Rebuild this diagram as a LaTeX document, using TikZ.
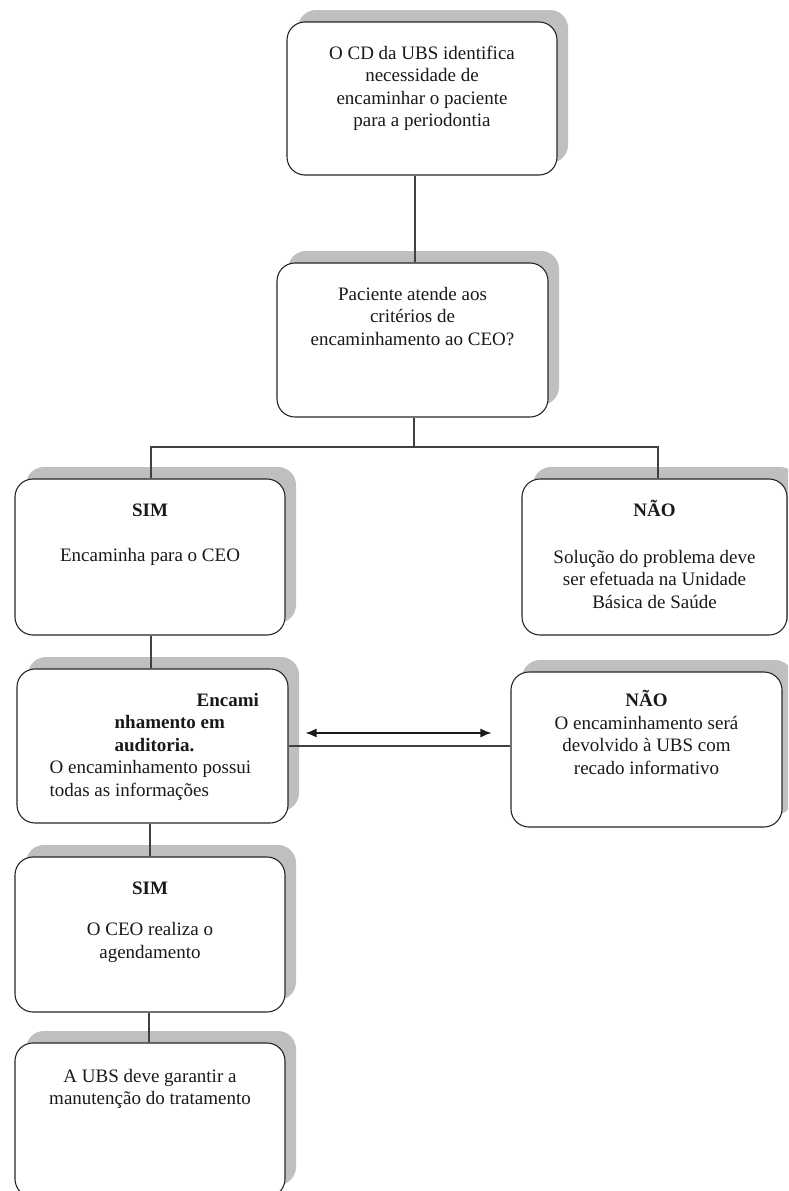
\documentclass[tikz,border=0pt]{standalone}
\usepackage{fontspec}
\setmainfont{Liberation Serif}
\usetikzlibrary{shadows,arrows.meta}
\begin{document}
\begin{tikzpicture}[x=1pt,y=-1pt,
  box/.style={draw=black!85, line width=1.1pt, fill=white, rounded corners=18pt, inner sep=0pt,
    drop shadow={shadow xshift=11pt, shadow yshift=12pt, fill=black!25, opacity=1}},
  txt/.style={inner sep=0pt, align=center, anchor=north, font=\fontsize{19}{22.5}\selectfont, text=black!90},
  link/.style={draw=black!75, line width=1.3pt},
  dbl/.style={draw=black!90, line width=1.3pt, {Latex[length=11pt,width=9pt]}-{Latex[length=11pt,width=9pt]}},
]
\clip (0,0) rectangle (788,1191);
% boxes
\node[box, minimum width=270pt, minimum height=153pt] (b1) at (422,98.5) {};
\node[box, minimum width=271pt, minimum height=154pt] (b2) at (412.5,340) {};
\node[box, minimum width=270pt, minimum height=156pt] (b3) at (150,557) {};
\node[box, minimum width=265pt, minimum height=156pt] (b4) at (654.5,557) {};
\node[box, minimum width=271pt, minimum height=154pt] (b5) at (152.5,746) {};
\node[box, minimum width=271pt, minimum height=155pt] (b6) at (646.5,749.5) {};
\node[box, minimum width=270pt, minimum height=155pt] (b7) at (150,934.5) {};
\node[box, minimum width=270pt, minimum height=154pt] (b8) at (150,1120) {};
% texts
\node[txt] (t1) at ([yshift=-22pt]b1.north) {\strut O CD da UBS identifica\\ necessidade de\\ encaminhar o paciente\\ para a periodontia};
\node[txt] (t2) at ([yshift=-22pt]b2.north) {\strut Paciente atende aos\\ critérios de\\ encaminhamento ao CEO?};
\node[txt] (t3) at ([yshift=-22pt]b3.north) {\strut\textbf{SIM}\\[22.5pt] Encaminha para o CEO};
\node[txt] (t4) at ([yshift=-22pt]b4.north) {\strut\textbf{NÃO}\\[24pt] Solução do problema deve\\ ser efetuada na Unidade\\ Básica de Saúde};
\node[txt, align=left, anchor=north west] (t5) at ([shift={(33pt,-22pt)}]b5.north west) {\strut\hspace*{147pt}\textbf{Encami}\\ \hspace*{65pt}\textbf{nhamento em}\\ \hspace*{65pt}\textbf{auditoria.}\\ O encaminhamento possui\\ todas as informações};
\node[txt] (t6) at ([yshift=-19pt]b6.north) {\strut\textbf{NÃO}\\ O encaminhamento será\\ devolvido à UBS com\\ recado informativo};
\node[txt] (t7) at ([yshift=-22pt]b7.north) {\strut\textbf{SIM}\\[19pt] O CEO realiza o\\ agendamento};
\node[txt] (t8) at ([yshift=-24pt]b8.north) {\strut A UBS deve garantir a\\ manutenção do tratamento};
% connectors
\coordinate (split) at (414,447);
\draw[link] ([xshift=-7pt]b1.south) -- ([xshift=-7pt]b1.south |- b2.north);
\draw[link] ([xshift=1.5pt]b2.south) -- ([xshift=1.5pt]b2.south |- split);
\draw[link] ([xshift=1pt]b3.north) |- (split) -| ([xshift=3.5pt]b4.north);
\draw[link] ([xshift=1pt]b3.south) -- ([xshift=1pt]b3.south |- b5.north);
\draw[link] (b5.east) -- (b5.east -| b6.west);
\coordinate (aL) at ([shift={(17pt,13pt)}]b5.east);
\coordinate (aR) at ([xshift=-19pt]aL -| b6.west);
\draw[dbl] (aL) -- (aR);
\draw[link] ([xshift=-2.5pt]b5.south) -- ([xshift=-2.5pt]b5.south |- b7.north);
\draw[link] ([xshift=-1pt]b7.south) -- ([xshift=-1pt]b7.south |- b8.north);
\end{tikzpicture}
\end{document}
